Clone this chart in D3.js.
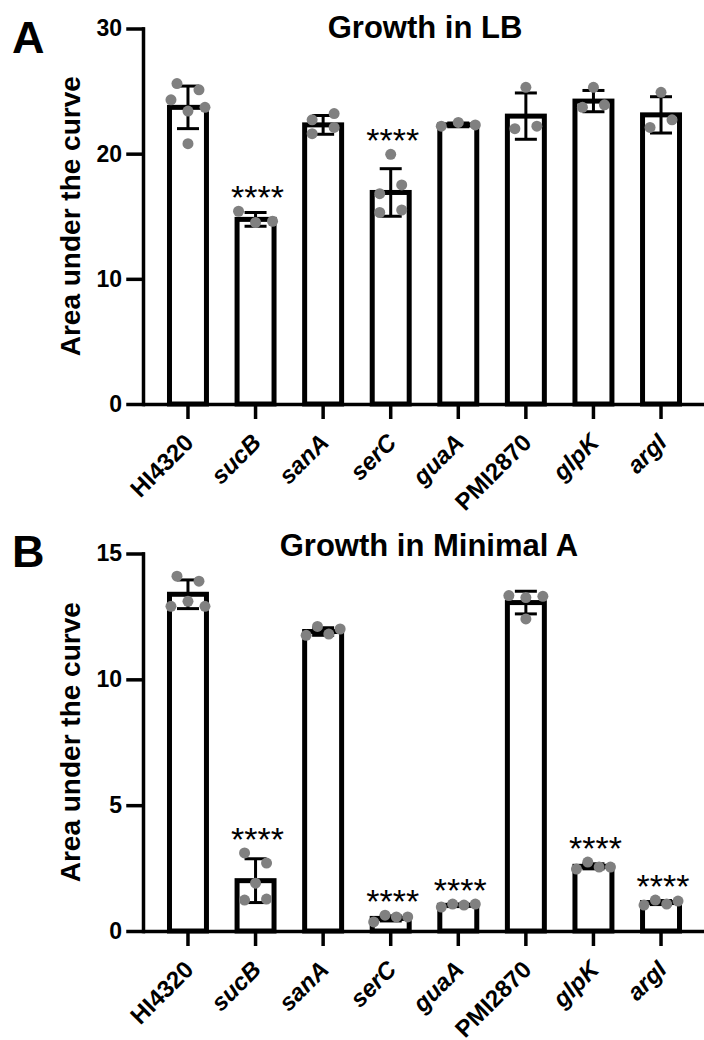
<!DOCTYPE html>
<html>
<head>
<meta charset="utf-8">
<script src="https://cdn.jsdelivr.net/npm/d3@7"></script>
<style>
    body { margin: 0; background: #fff; }
    svg { font-family: "Liberation Sans", Arial, sans-serif; }
</style>
</head>
<body>
<div id="chart"></div>
<script>
// strains / mutants on the x axis
const categories = ["HI4320", "sucB", "sanA", "serC", "guaA", "PMI2870", "glpK", "argI"];

// Growth in LB
const lbMeans  = [23.7, 14.75, 22.3, 16.9, 22.3, 23.0, 24.2, 23.1];
const lbSD     = [1.7, 0.55, 0.75, 1.9, 0.15, 1.85, 0.85, 1.45];
const lbPoints = [
    [25.6, 25.1, 24.3, 23.4, 23.7, 20.8],
    [15.4, 14.5, 14.6],
    [22.7, 23.2, 21.6, 22.1],
    [19.95, 16.8, 17.5, 15.3, 15.5],
    [22.2, 22.5, 22.3],
    [25.3, 22.0, 22.2],
    [25.3, 23.7, 23.9],
    [24.9, 22.1, 22.7]
];
const lbSig   = ["", "****", "", "****", "", "", "", ""];
const lbTicks = [0, 10, 20, 30];

// Growth in Minimal A
const minMeans  = [13.38, 2.0, 11.9, 0.5, 1.02, 13.05, 2.57, 1.13];
const minSD     = [0.57, 0.87, 0.15, 0.1, 0.05, 0.45, 0.1, 0.08];
const minPoints = [
    [14.1, 13.9, 12.9, 13.1, 12.9],
    [3.1, 2.7, 1.9, 1.23, 1.27],
    [11.75, 12.1, 11.8, 12.0],
    [0.36, 0.63, 0.56, 0.56],
    [0.95, 1.07, 1.03, 1.07],
    [13.33, 13.25, 13.3, 12.4],
    [2.46, 2.74, 2.54, 2.54],
    [1.03, 1.23, 1.07, 1.19]
];
const minSig   = ["", "****", "", "****", "****", "", "****", "****"];
const minTicks = [0, 5, 10, 15];

const W = 704, H = 1040;
const svg = d3.select("#chart").append("svg")
    .attr("width", W)
    .attr("height", H);

// shared x scale for both panels
const x = d3.scaleBand()
    .domain(categories)
    .range([143, 706])
    .paddingInner(0.453)
    .paddingOuter(0.392);
const cx = c => x(c) + x.bandwidth() / 2;

// spread the replicate dots sideways in rows, like a scatter dot plot
function spreadPoints(vals, y) {
    const idx = d3.range(vals.length).sort((a, b) => vals[b] - vals[a]);
    const rows = [];
    let cur = null;
    idx.forEach(function(i) {
        if (cur && y(vals[i]) - y(vals[cur[0]]) < 12) cur.push(i);
        else { cur = [i]; rows.push(cur); }
    });
    const off = new Array(vals.length);
    rows.forEach(function(r) {
        r.sort((a, b) => a - b);
        const k = r.length;
        const s = k > 1 ? Math.min(22, 34 / (k - 1)) : 0;
        r.forEach((i, j) => off[i] = (j - (k - 1) / 2) * s);
    });
    return off;
}

function drawPanel(opts) {
    const g = svg.append("g");
    const y = d3.scaleLinear()
        .domain([0, d3.max(opts.ticks)])
        .range(opts.yRange);

    const data = categories.map((c, i) => ({
        name: c, mean: opts.means[i], sd: opts.sd[i], pts: opts.points[i], sig: opts.sig[i]
    }));

    // panel letter + title
    g.append("text")
        .attr("x", 12)
        .attr("y", opts.letterY)
        .style("font-size", "45px")
        .style("font-weight", "bold")
        .text(opts.letter);

    g.append("text")
        .attr("x", opts.titleX)
        .attr("y", opts.titleY)
        .attr("text-anchor", "middle")
        .style("font-size", "31px")
        .style("font-weight", "bold")
        .text(opts.title);

    // y axis label
    g.append("text")
        .attr("transform", "translate(80," + ((opts.yRange[0] + opts.yRange[1]) / 2) + ") rotate(-90)")
        .attr("text-anchor", "middle")
        .style("font-size", "28px")
        .style("font-weight", "bold")
        .text("Area under the curve");

    // bars
    g.selectAll(".bar")
        .data(data)
        .enter().append("rect")
        .attr("class", "bar")
        .attr("x", d => x(d.name))
        .attr("width", x.bandwidth())
        .attr("y", d => y(d.mean))
        .attr("height", d => y(0) - y(d.mean))
        .attr("fill", "#fff")
        .attr("stroke", "#000")
        .attr("stroke-width", 5);

    // error bars (mean +/- SD)
    const err = g.selectAll(".err")
        .data(data)
        .enter().append("g")
        .attr("class", "err")
        .attr("transform", d => "translate(" + cx(d.name) + ",0)")
        .attr("stroke", "#000")
        .attr("stroke-width", 3);
    err.append("line")
        .attr("x1", 0).attr("x2", 0)
        .attr("y1", d => y(d.mean - d.sd))
        .attr("y2", d => y(d.mean + d.sd));
    err.append("line")
        .attr("x1", -11).attr("x2", 11)
        .attr("y1", d => y(d.mean + d.sd))
        .attr("y2", d => y(d.mean + d.sd));
    err.append("line")
        .attr("x1", -11).attr("x2", 11)
        .attr("y1", d => y(d.mean - d.sd))
        .attr("y2", d => y(d.mean - d.sd));

    // replicate dots
    data.forEach(function(d) {
        const off = spreadPoints(d.pts, y);
        g.selectAll(null)
            .data(d.pts)
            .enter().append("circle")
            .attr("cx", (v, i) => cx(d.name) + off[i])
            .attr("cy", v => y(v))
            .attr("r", 5.5)
            .attr("fill", "#808080");
    });

    // significance stars
    g.selectAll(".sig")
        .data(data.filter(d => d.sig))
        .enter().append("text")
        .attr("class", "sig")
        .attr("x", d => cx(d.name) + 2)
        .attr("y", d => y(Math.max(d3.max(d.pts), d.mean + d.sd)) - 2)
        .attr("text-anchor", "middle")
        .style("font-size", "34px")
        .text(d => d.sig);

    // add the y Axis
    const yAxis = g.append("g")
        .attr("transform", "translate(143,0)")
        .call(d3.axisLeft(y)
            .tickValues(opts.ticks)
            .tickSize(15)
            .tickSizeOuter(0)
            .tickPadding(6));
    yAxis.selectAll("path, line").attr("stroke-width", 3.5).attr("stroke-linecap", "square");
    yAxis.selectAll("text")
        .style("font-size", "23px")
        .style("font-weight", "bold")
        .attr("fill", "#000");

    // add the x Axis (ticks only, labels drawn slanted below)
    const xAxis = g.append("g")
        .attr("transform", "translate(0," + opts.yRange[0] + ")")
        .call(d3.axisBottom(x).tickSize(15).tickSizeOuter(0));
    xAxis.selectAll("path, line").attr("stroke-width", 3.5);
    xAxis.selectAll("text").remove();

    // 45 degree labels, end of text sits just under the tick
    g.selectAll(".xlab")
        .data(categories)
        .enter().append("text")
        .attr("class", "xlab")
        .attr("transform", c => "translate(" + (cx(c) + 7) + "," + (opts.yRange[0] + 40) + ") rotate(-45)")
        .attr("text-anchor", "end")
        .style("font-size", "24px")
        .style("font-weight", "bold")
        .style("font-style", c => /^[a-z]/.test(c) ? "italic" : "normal")
        .text(c => c);
}

drawPanel({
    letter: "A", letterY: 53, title: "Growth in LB", titleX: 425, titleY: 38,
    yRange: [404, 28.5], ticks: lbTicks,
    means: lbMeans, sd: lbSD, points: lbPoints, sig: lbSig
});

drawPanel({
    letter: "B", letterY: 567, title: "Growth in Minimal A", titleX: 429, titleY: 556,
    yRange: [931, 553.5], ticks: minTicks,
    means: minMeans, sd: minSD, points: minPoints, sig: minSig
});
</script>
</body>
</html>
